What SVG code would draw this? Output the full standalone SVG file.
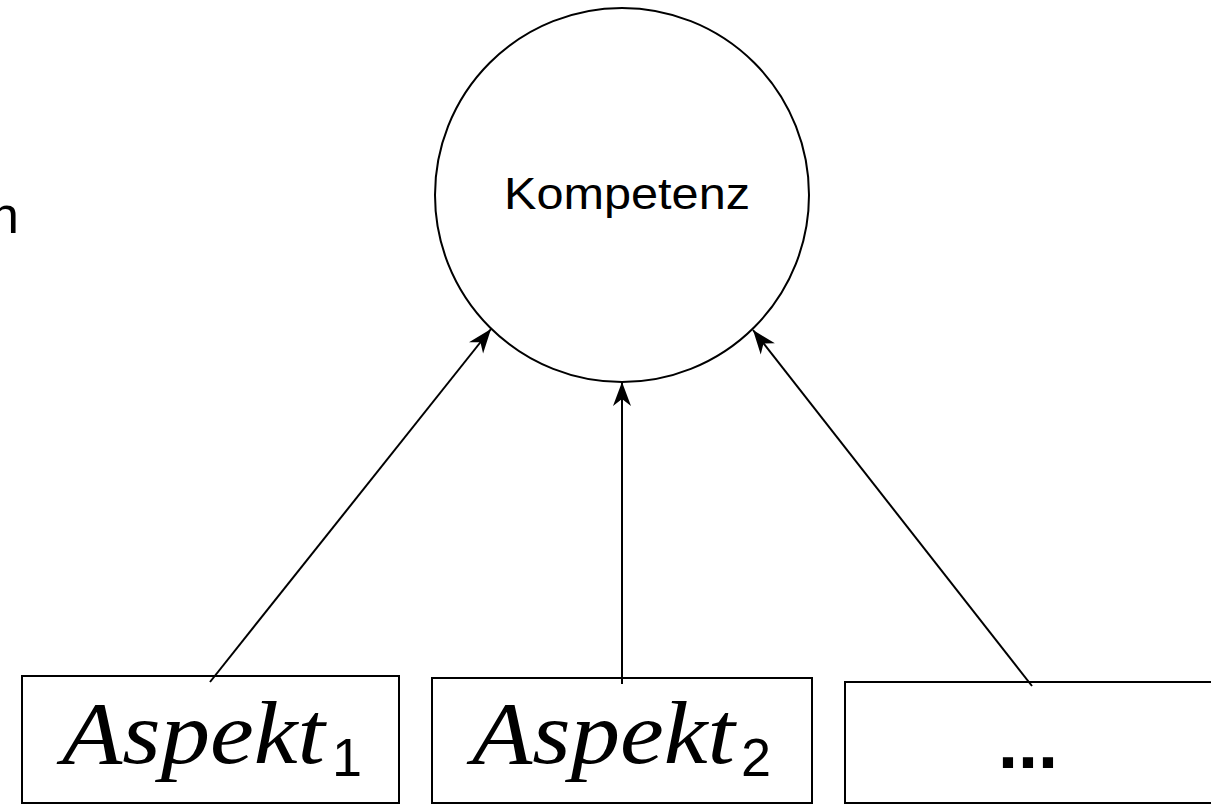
<svg xmlns="http://www.w3.org/2000/svg" width="1211" height="804" viewBox="0 0 1211 804">
<style>
.shape{fill:#fff;stroke:#000;stroke-width:2}
.edge{stroke:#000;stroke-width:2;fill:none;marker-end:url(#arr)}
.sans{font-family:"Liberation Sans",Arial,sans-serif;fill:#000}
.math{font-family:"Liberation Serif","DejaVu Serif",serif;font-style:italic;fill:#000}
</style>
<defs>
<marker id="arr" markerUnits="userSpaceOnUse" markerWidth="28" markerHeight="24" viewBox="-26 -12 28 24" refX="0" refY="0" orient="auto">
<path d="M0,0 L-24,-9 L-17,0 L-24,9 Z" fill="#000"/>
</marker>
</defs>
<rect width="1211" height="804" fill="#fff"/>
<g id="side-text"><text class="sans" x="19" y="233" font-size="52" text-anchor="end">n</text></g>
<g id="kompetenz">
<circle class="shape" cx="622" cy="195" r="187"/>
<text class="sans" x="627" y="209" font-size="45" text-anchor="middle" textLength="246" lengthAdjust="spacingAndGlyphs">Kompetenz</text>
</g>
<g id="aspekt1">
<rect class="shape" x="22" y="676" width="377" height="127"/>
<text class="math" x="62" y="763" font-size="88" textLength="263" lengthAdjust="spacingAndGlyphs">Aspekt</text>
<text class="sans" x="332" y="776" font-size="54">1</text>
</g>
<g id="aspekt2">
<rect class="shape" x="432" y="678" width="380" height="125"/>
<text class="math" x="472" y="763" font-size="88" textLength="263" lengthAdjust="spacingAndGlyphs">Aspekt</text>
<text class="sans" x="741" y="776" font-size="54">2</text>
</g>
<g id="weitere">
<rect class="shape" x="845" y="682" width="380" height="121"/>
<text class="sans" x="1028" y="768" font-size="72" font-weight="bold" text-anchor="middle">...</text>
</g>
<g id="connectors">
<line class="edge" x1="210" y1="682" x2="491" y2="329"/>
<line class="edge" x1="622" y1="684" x2="622" y2="382"/>
<line class="edge" x1="1032" y1="686" x2="753" y2="330"/>
</g>
</svg>
